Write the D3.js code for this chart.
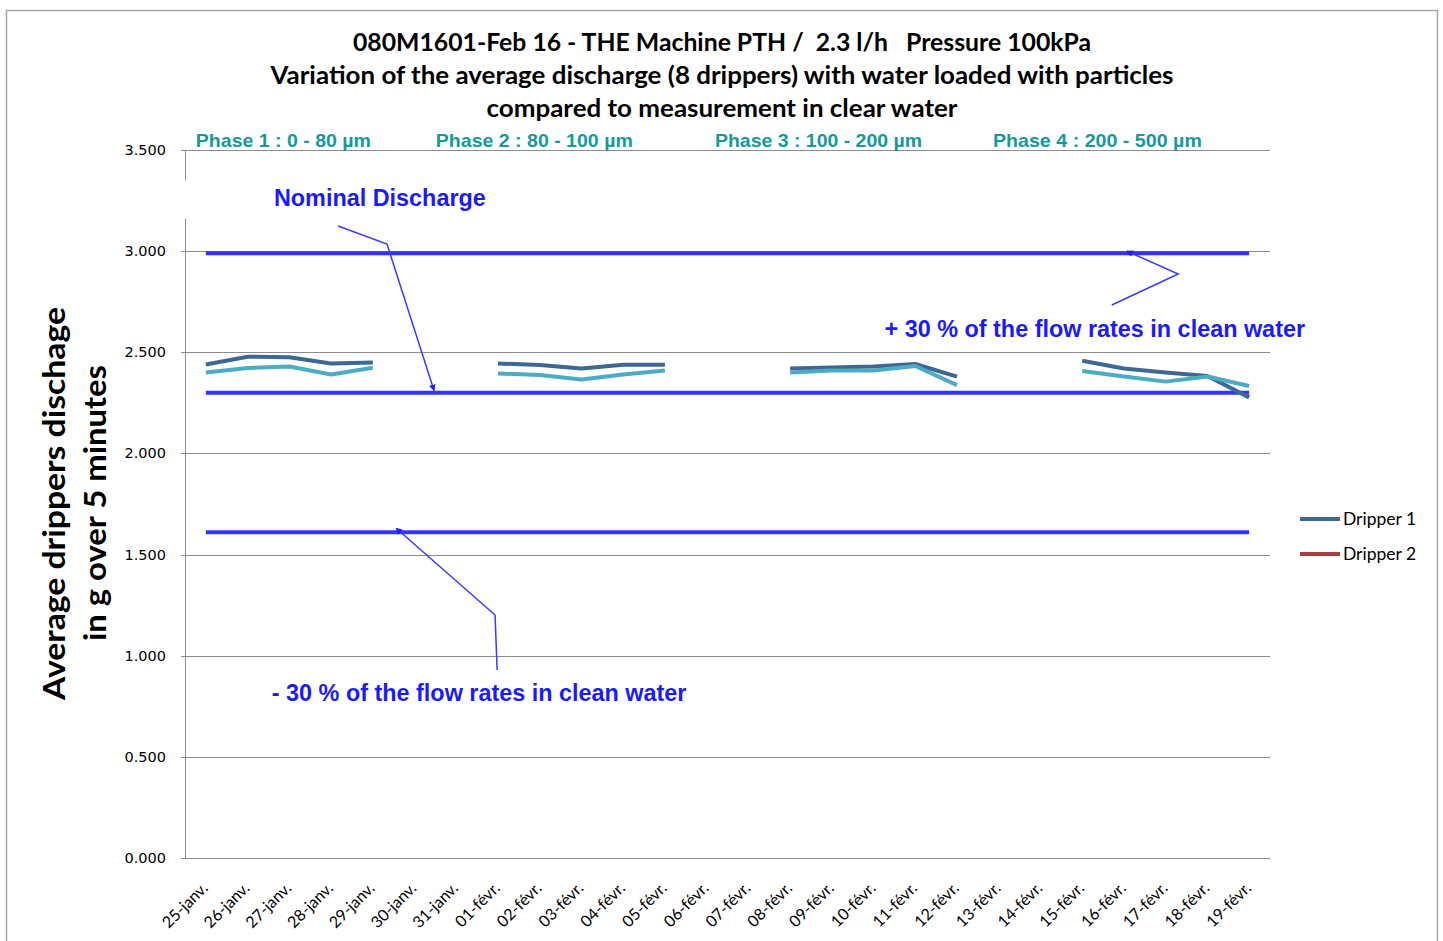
<!DOCTYPE html>
<html><head><meta charset="utf-8">
<script src="https://cdn.jsdelivr.net/npm/d3@7"></script>
<style>body{margin:0;background:#fff}svg{display:block}text{white-space:pre}</style>
</head><body><svg id="c" width="1443" height="941"></svg>
<script>
const categories = ["25-janv.","26-janv.","27-janv.","28-janv.","29-janv.","30-janv.","31-janv.",
 "01-févr.","02-févr.","03-févr.","04-févr.","05-févr.","06-févr.","07-févr.","08-févr.","09-févr.",
 "10-févr.","11-févr.","12-févr.","13-févr.","14-févr.","15-févr.","16-févr.","17-févr.","18-févr.","19-févr."];
const dripper1 = [2.44,2.478,2.475,2.445,2.45,null,null,
 2.445,2.437,2.42,2.438,2.438,null,null,2.42,2.425,2.43,2.442,2.38,null,null,
 2.458,2.42,2.40,2.383,2.277];
const dripper2 = [2.40,2.422,2.43,2.39,2.424,null,null,
 2.395,2.388,2.366,2.39,2.41,null,null,2.40,2.41,2.41,2.432,2.338,null,null,
 2.408,2.38,2.355,2.38,2.333];
const nominal = 2.3, plus30 = 2.99, minus30 = 1.61;
const yTicks = [0,0.5,1,1.5,2,2.5,3,3.5];
const titleLines = ["080M1601-Feb 16 - THE Machine PTH /  2.3 l/h   Pressure 100kPa",
 "Variation of the average discharge (8 drippers) with water loaded with particles",
 "compared to measurement in clear water"];
const titleWidths = [738, 903, 471];
const phases = [{label:"Phase 1 : 0 - 80 µm",from:0.26,w:175},{label:"Phase 2 : 80 - 100 µm",from:6.01,w:197},
 {label:"Phase 3 : 100 - 200 µm",from:12.70,w:207},{label:"Phase 4 : 200 - 500 µm",from:19.36,w:209}];
const seriesNames = ["Dripper 1","Dripper 2"];
const legendColors = ["#3d6896","#a5403d"];
const lineColors = ["#3d6896","#4bacc6"];
// annotations in data coordinates (category position, value)
const annotations = [
 {text:"Nominal Discharge", tx:4.67, ty:3.223, pts:[[3.67,3.124],[4.84,3.035],[5.97,2.31]]},
 {text:"+ 30 % of the flow rates in clean water", tx:26.84, ty:2.575, anchor:"end", pts:[[22.21,2.734],[23.80,2.887],[22.57,3.0]]},
 {text:"- 30 % of the flow rates in clean water", tx:2.08, ty:0.776, anchor:"start", pts:[[7.48,0.929],[7.43,1.201],[5.06,1.63]]}
];

const svg = d3.select("#c");
const L=185, R=1270, T=150, B=858;
const x = d3.scaleBand().domain(categories).range([L,R]).padding(0);
const xi = d3.scaleLinear().domain([0,categories.length]).range([L,R]);
const y = d3.scaleLinear().domain([0,3.5]).range([B,T]);

svg.append("rect").attr("x",6.5).attr("y",10.5).attr("width",1431).attr("height",940)
  .attr("fill","none").attr("stroke","#a6a6a6").attr("stroke-width",1.5);

// gridlines
svg.append("g").selectAll("line").data(yTicks).join("line")
  .attr("x1",L-4).attr("x2",R).attr("y1",d=>Math.round(y(d))+0.5).attr("y2",d=>Math.round(y(d))+0.5)
  .attr("stroke","#8c8c8c").attr("stroke-width",1);
svg.append("line").attr("x1",L+0.5).attr("x2",L+0.5).attr("y1",T).attr("y2",B)
  .attr("stroke","#8c8c8c");

// y tick labels
svg.append("g").selectAll("text").data(yTicks).join("text")
  .attr("x",166).attr("y",d=>y(d)+5).attr("text-anchor","end")
  .attr("font-family","DejaVu Sans").attr("font-size",14.5).attr("fill","#000")
  .text(d=>d3.format(".3f")(d));

// x labels
svg.append("g").selectAll("text").data(categories).join("text")
  .attr("transform",d=>`translate(${x(d)+x.bandwidth()/2+3},${B+31}) rotate(-45)`)
  .attr("text-anchor","end").attr("font-family","Lato").attr("font-size",16).attr("fill","#000")
  .text(d=>d);

// reference lines
const xFirst = x(categories[0])+x.bandwidth()/2, xLast = x(categories[categories.length-1])+x.bandwidth()/2;
svg.append("g").selectAll("line").data([plus30,nominal,minus30]).join("line")
  .attr("x1",xFirst).attr("x2",xLast).attr("y1",d=>y(d)).attr("y2",d=>y(d))
  .attr("stroke","#3333ff").attr("stroke-width",4);

// series lines
const line = d3.line().defined(d=>d.v!=null).x(d=>x(d.c)+x.bandwidth()/2).y(d=>y(d.v));
[dripper1,dripper2].forEach((s,i)=>{
  svg.append("path").datum(s.map((v,j)=>({c:categories[j],v})))
    .attr("d",line).attr("fill","none").attr("stroke",lineColors[i]).attr("stroke-width",4)
    .attr("stroke-linejoin","round");
});

// white box behind nominal label
svg.append("rect").attr("x",L-2).attr("y",y(3.35)).attr("width",6).attr("height",y(3.16)-y(3.35)).attr("fill","#fff");

// annotations
svg.append("defs").append("marker").attr("id","ah").attr("viewBox","0 0 10 10")
  .attr("refX",9).attr("refY",5).attr("markerWidth",4.5).attr("markerHeight",4.5)
  .attr("orient","auto").append("path").attr("d","M0,0L10,5L0,10z").attr("fill","#2020ee");
annotations.forEach(a=>{
  svg.append("path").attr("d",d3.line()(a.pts.map(p=>[xi(p[0]),y(p[1])])))
    .attr("fill","none").attr("stroke","#3a3aff").attr("stroke-width",1.5).attr("marker-end","url(#ah)");
  svg.append("text").attr("x",xi(a.tx)).attr("y",y(a.ty)).attr("text-anchor",a.anchor||"middle")
    .attr("font-family","Liberation Sans").attr("font-weight","bold").attr("font-size",23.4)
    .attr("fill","#1a1aff").text(a.text);
});

// phase labels
svg.append("g").selectAll("text").data(phases).join("text")
  .attr("x",d=>xi(d.from)).attr("y",147)
  .attr("textLength",d=>d.w).attr("lengthAdjust","spacingAndGlyphs")
  .attr("font-family","Liberation Sans Narrow, Liberation Sans").attr("font-weight","bold").attr("font-size",19)
  .attr("fill","#17999a").text(d=>d.label);

// title
svg.append("g").selectAll("text").data(titleLines).join("text")
  .attr("x",(d,i)=>722-titleWidths[i]/2).attr("y",(d,i)=>51+i*33)
  .attr("textLength",(d,i)=>titleWidths[i]).attr("lengthAdjust","spacingAndGlyphs")
  .attr("font-family","Lato").attr("font-weight","bold").attr("font-size",24).attr("fill","#000")
  .text(d=>d);

// y axis title
const yt = svg.append("g").attr("transform","translate(0,504) rotate(-90)");
yt.append("text").attr("x",-196).attr("y",65).attr("textLength",393).attr("lengthAdjust","spacingAndGlyphs")
  .attr("font-family","Lato").attr("font-weight","bold").attr("font-size",31).text("Average drippers dischage");
yt.append("text").attr("x",-137).attr("y",106).attr("textLength",276).attr("lengthAdjust","spacingAndGlyphs")
  .attr("font-family","Lato").attr("font-weight","bold").attr("font-size",31).text("in g over 5 minutes");

// legend
const lg = svg.append("g").selectAll("g").data(seriesNames).join("g")
  .attr("transform",(d,i)=>`translate(1300,${519+i*35})`);
lg.append("line").attr("x1",0).attr("x2",40).attr("stroke",(d,i)=>legendColors[i]).attr("stroke-width",4);
lg.append("text").attr("x",43).attr("y",5.5).attr("font-family","Lato").attr("font-size",17.5).text(d=>d);
</script></body></html>
